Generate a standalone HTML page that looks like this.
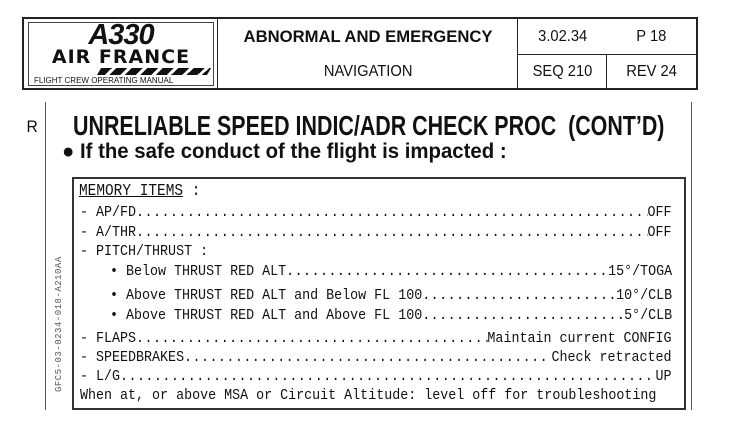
<!DOCTYPE html>
<html><head><meta charset="utf-8">
<style>
html,body{margin:0;padding:0;background:#fff;width:741px;height:442px;overflow:hidden;position:relative;font-family:"Liberation Sans",sans-serif;color:#111}
.abs{position:absolute}
.hdr{left:22px;top:17px;width:676px;height:73px;border:2px solid #222;box-sizing:border-box}
.cell{position:absolute;box-sizing:border-box;display:flex;align-items:center;justify-content:center;font-size:16px;transform-origin:center}
.n{display:inline-block;transform:scaleX(0.92)}
.row{position:absolute;left:80px;width:643px;display:flex;font-family:"Liberation Mono",monospace;font-size:14.5px;white-space:nowrap;transform:scaleX(0.92);transform-origin:left;line-height:16px}
.row .l,.row .v{flex:none}
.row .d{flex:1;overflow:hidden}
.row .d::before{content:"................................................................................................................................................";letter-spacing:0.5px}
</style></head><body>
<div class="abs hdr">
  <div class="cell" style="left:0;top:0;width:194px;height:69px;border-right:1.5px solid #222;display:block">
    <div style="position:absolute;left:4px;top:3px;width:184px;height:62px;border:1px solid #444"></div>
    <div style="position:absolute;left:0;width:194px;top:0px;text-align:center;font-size:29px;font-weight:bold;font-style:italic;letter-spacing:-1px">A330</div>
    <div style="position:absolute;left:0;width:194px;top:27px;text-align:center;font-size:19px;font-weight:900;letter-spacing:1px;font-family:'DejaVu Sans',sans-serif">AIR FRANCE</div>
    <div style="position:absolute;left:75px;top:49px;width:110px;height:7px;background:repeating-linear-gradient(115deg,#111 0 10px,#fff 10px 14px);transform:skewX(-30deg)"></div>
    <div style="position:absolute;left:10px;top:57px;font-size:8px;white-space:nowrap">FLIGHT CREW OPERATING MANUAL</div>
  </div>
  <div class="cell" style="left:194px;top:0;width:300px;height:36px;font-weight:bold;font-size:17px"><span class="n" style="transform:scaleX(0.98)">ABNORMAL AND EMERGENCY</span></div>
  <div class="cell" style="left:194px;top:36px;width:300px;height:33px"><span class="n">NAVIGATION</span></div>
  <div class="abs" style="left:194px;top:0;width:300px;height:69px;border-right:1.5px solid #222;box-sizing:border-box"></div>
  <div class="cell" style="left:494px;top:0;width:89px;height:36px;border-bottom:1.5px solid #222"><span class="n">3.02.34</span></div>
  <div class="cell" style="left:583px;top:0;width:89px;height:36px;border-bottom:1.5px solid #222"><span class="n">P 18</span></div>
  <div class="cell" style="left:494px;top:36px;width:89px;height:33px;border-right:1.5px solid #222"><span class="n">SEQ 210</span></div>
  <div class="cell" style="left:583px;top:36px;width:89px;height:33px"><span class="n">REV 24</span></div>
</div>
<div class="abs" style="left:45px;top:102px;width:1px;height:308px;background:#555"></div>
<div class="abs" style="left:691px;top:102px;width:1px;height:308px;background:#555"></div>
<div class="abs" style="left:26px;top:117px;font-size:17px"><span class="n">R</span></div>
<div class="abs" style="left:73px;top:110px;font-size:28px;font-weight:bold;white-space:nowrap;transform:scaleX(0.765);transform-origin:left">UNRELIABLE SPEED INDIC/ADR CHECK PROC&nbsp; (CONT’D)</div>
<div class="abs" style="left:62px;top:140px;font-size:21px;font-weight:bold;white-space:nowrap;transform:scaleX(0.97);transform-origin:left">● If the safe conduct of the flight is impacted :</div>
<div class="abs" style="left:54px;top:392px;font-size:9px;font-family:'Liberation Mono',monospace;white-space:nowrap;transform:rotate(-90deg);transform-origin:left top;color:#555;letter-spacing:0.5px">GFC5-03-0234-018-A210AA</div>
<div class="abs" style="left:72px;top:177px;width:614px;height:233px;border:2px solid #333;box-sizing:border-box"></div>
<div class="abs" style="left:79px;top:182px;font-family:'Liberation Mono',monospace;font-size:17px;white-space:nowrap;transform:scaleX(0.85);transform-origin:left"><u>MEMORY ITEMS</u> :</div>
<div class="row" style="top:205px"><span class="l">- AP/FD</span><span class="d"></span><span class="v">OFF</span></div>
<div class="row" style="top:225px"><span class="l">- A/THR</span><span class="d"></span><span class="v">OFF</span></div>
<div class="row" style="top:244px"><span class="l">- PITCH/THRUST :</span></div>
<div class="row" style="top:264px;left:110px;width:611px"><span class="l">• Below THRUST RED ALT</span><span class="d"></span><span class="v">15°/TOGA</span></div>
<div class="row" style="top:288px;left:110px;width:611px"><span class="l">• Above THRUST RED ALT and Below FL 100</span><span class="d"></span><span class="v">10°/CLB</span></div>
<div class="row" style="top:308px;left:110px;width:611px"><span class="l">• Above THRUST RED ALT and Above FL 100</span><span class="d"></span><span class="v">5°/CLB</span></div>
<div class="row" style="top:331px"><span class="l">- FLAPS</span><span class="d"></span><span class="v">Maintain current CONFIG</span></div>
<div class="row" style="top:350px"><span class="l">- SPEEDBRAKES</span><span class="d"></span><span class="v">Check retracted</span></div>
<div class="row" style="top:369px"><span class="l">- L/G</span><span class="d"></span><span class="v">UP</span></div>
<div class="row" style="top:388px;display:block">When at, or above MSA or Circuit Altitude: level off for troubleshooting</div>
</body></html>
